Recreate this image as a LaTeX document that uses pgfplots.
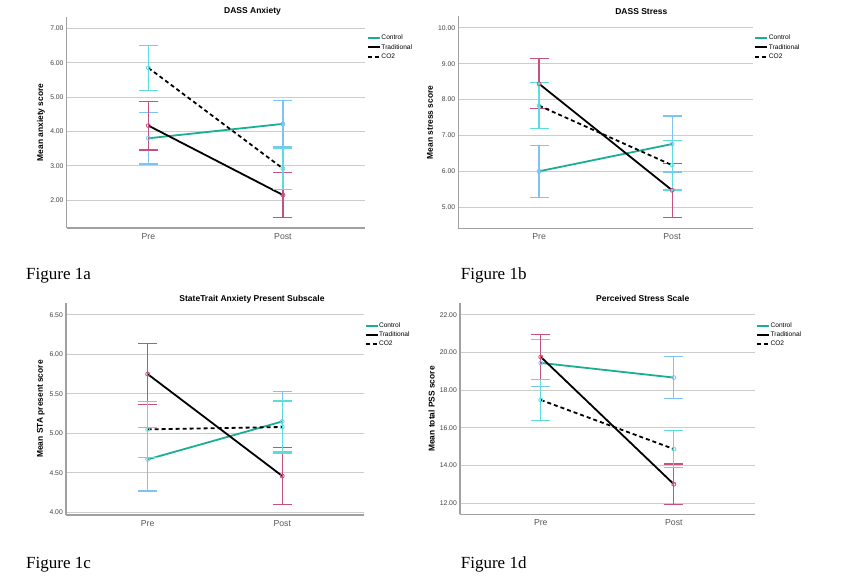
\documentclass[border=0pt]{standalone}
\usepackage{fontspec}
\setmainfont{Liberation Sans}
\newfontfamily\capfont{Liberation Serif}
\usepackage{pgfplots}
\pgfplotsset{compat=1.18}

\definecolor{ctrl}{HTML}{1AAE96}
\definecolor{ebcyan}{HTML}{5EDCDC}
\definecolor{ebblue}{HTML}{7EC3F5}
\definecolor{ebred}{HTML}{C6507E}
\definecolor{gridc}{HTML}{CCCCCC}
\definecolor{axc}{HTML}{A0A0A0}

\pgfplotsset{
  spss/.style={
    scale only axis, anchor=south west,
    axis x line*=bottom, axis y line*=left,
    axis line style={axc, line width=1.5pt, -},
    major tick length=0pt,
    ymajorgrids, grid style={gridc, line width=1pt},
    xmin=0.393, xmax=2.61,
    xtick={1,2}, xticklabels={Pre,Post},
    xticklabel style={font=\fontsize{8.7}{9}\selectfont, text=black!65, inner sep=0pt, yshift=-5pt},
    yticklabel style={font=\fontsize{6.8}{7}\selectfont, text=black!75, inner sep=0pt, xshift=-3pt,
      /pgf/number format/.cd, fixed, fixed zerofill, precision=2, assume math mode=true},
    scaled y ticks=false,
    legend style={draw=none, fill=none, anchor=north west, inner sep=0pt,
      font=\fontsize{6.6}{7}\selectfont,
      nodes={inner sep=0.5pt, text height=4.8pt, text depth=1.2pt}, row sep=2.3pt},
    legend cell align=left,
    legend image code/.code={\draw[##1, line width=2pt, mark=none] (0pt,0pt) -- (12pt,0pt);},
  },
  grp/.style={line width=1.8pt, mark=o, mark size=2pt,
    mark options={#1, solid, line width=0.8pt},
    error bars/y dir=both, error bars/y explicit,
    error bars/error bar style={#1, line width=1.2pt, solid},
    error bars/error mark options={rotate=90, #1, mark size=9.5pt, line width=1.2pt, solid}},
  ctrlS/.style={grp=ebblue, ctrl},
  tradS/.style={grp=ebred, black},
  co2S/.style={grp=ebcyan, black, dash pattern=on 4pt off 3pt},
}

\begin{document}
\begin{tikzpicture}
\path[fill=white] (0,0) rectangle (843pt,583pt);

% Figure 1a
\begin{axis}[spss, at={(66.7pt,355pt)}, width=298.3pt, height=211pt,
  ymin=1.19, ymax=7.33, ytick={2,3,4,5,6,7},
  legend style={at={(1.006,0.918)}}]
\addplot[ctrlS] coordinates {(1,3.80) +- (0,0.745) (2,4.22) +- (0,0.67)};
\addplot[tradS] coordinates {(1,4.17) +- (0,0.71) (2,2.15) +- (0,0.65)};
\addplot[co2S] coordinates {(1,5.85) +- (0,0.66) (2,2.92) +- (0,0.60)};
\legend{Control,Traditional,CO2}
\end{axis}

% Figure 1b
\begin{axis}[spss, at={(458.3pt,354.7pt)}, width=295pt, height=212.3pt,
  ymin=4.41, ymax=10.33, ytick={5,6,7,8,9,10},
  legend style={at={(1.003,0.914)}}]
\addplot[ctrlS] coordinates {(1,6.00) +- (0,0.725) (2,6.76) +- (0,0.78)};
\addplot[tradS] coordinates {(1,8.44) +- (0,0.70) (2,5.47) +- (0,0.75)};
\addplot[co2S] coordinates {(1,7.83) +- (0,0.64) (2,6.17) +- (0,0.69)};
\legend{Control,Traditional,CO2}
\end{axis}

% Figure 1c
\begin{axis}[spss, at={(66pt,68pt)}, width=298.3pt, height=212pt,
  ymin=3.966, ymax=6.65, ytick={4,4.5,5,5.5,6,6.5},
  legend style={at={(1.0,0.911)}}]
\addplot[ctrlS] coordinates {(1,4.67) +- (0,0.40) (2,5.15) +- (0,0.38)};
\addplot[tradS] coordinates {(1,5.75) +- (0,0.39) (2,4.46) +- (0,0.36)};
\addplot[co2S] coordinates {(1,5.05) +- (0,0.355) (2,5.08) +- (0,0.33)};
\legend{Control,Traditional,CO2}
\end{axis}

% Figure 1d
\begin{axis}[spss, at={(460pt,68.7pt)}, width=295pt, height=211pt,
  ymin=11.40, ymax=22.62, ytick={12,14,16,18,20,22},
  legend style={at={(1.003,0.912)}}]
\addplot[ctrlS] coordinates {(1,19.45) +- (0,1.24) (2,18.67) +- (0,1.12)};
\addplot[tradS] coordinates {(1,19.77) +- (0,1.19) (2,13.00) +- (0,1.07)};
\addplot[co2S] coordinates {(1,17.48) +- (0,1.09) (2,14.87) +- (0,0.99)};
\legend{Control,Traditional,CO2}
\end{axis}

% titles
\begin{scope}[every node/.style={font=\bfseries\fontsize{8.5}{9}\selectfont, inner sep=0pt}]
\node at (252.5pt,571.3pt) {DASS Anxiety};
\node at (641.3pt,571.3pt) {DASS Stress};
\node at (252pt,284pt) {StateTrait Anxiety Present Subscale};
\node at (642.7pt,284.7pt) {Perceived Stress Scale};
\end{scope}

% y labels
\begin{scope}[every node/.style={font=\bfseries\fontsize{8.4}{9}\selectfont, inner sep=0pt, rotate=90}]
\node at (41pt,460.5pt) {Mean anxiety score};
\node at (430pt,460.5pt) {Mean stress score};
\node at (40.7pt,174pt) {Mean STA present score};
\node at (431.7pt,174pt) {Mean total PSS score};
\end{scope}

% captions
\begin{scope}[every node/.style={font=\capfont\fontsize{17}{18}\selectfont, inner sep=0pt, anchor=base west}]
\node at (26pt,303pt) {Figure 1a};
\node at (460.7pt,303pt) {Figure 1b};
\node at (26pt,14pt) {Figure 1c};
\node at (460.7pt,14pt) {Figure 1d};
\end{scope}
\end{tikzpicture}
\end{document}
